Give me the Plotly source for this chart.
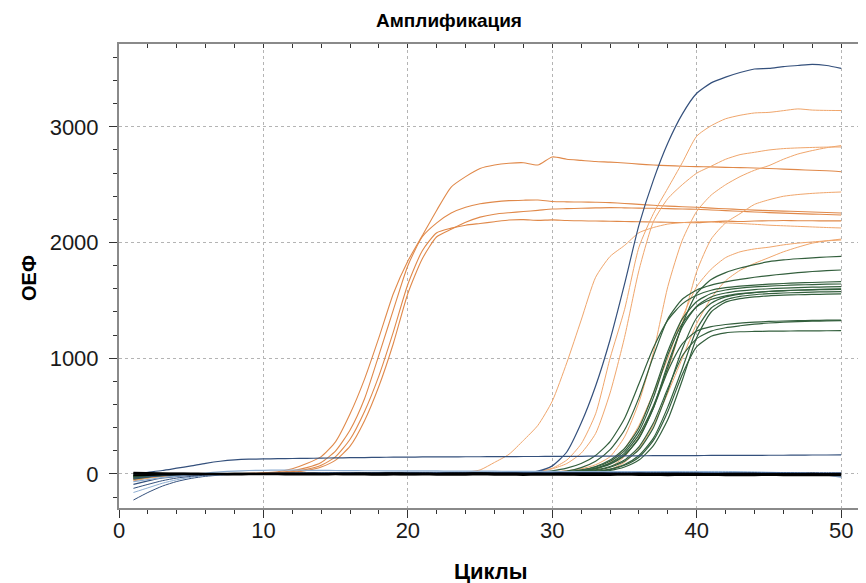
import plotly.graph_objects as go

cycles = list(range(1, 51))

# ---- early orange curves ----
O1 = [-40,-25,-15,-8,-5,-2,0,2,5,10,
      20,45,90,150,280,520,820,1180,1560,1840,
      2060,2280,2480,2570,2640,2670,2685,2690,2670,2740,
      2720,2710,2700,2695,2688,2678,2670,2665,2660,2656,
      2654,2650,2648,2645,2640,2635,2630,2625,2620,2612]
O2 = [-60,-35,-20,-10,-5,-2,0,2,3,6,
      12,28,55,100,200,380,650,1030,1420,1800,
      2050,2170,2255,2305,2335,2352,2362,2366,2368,2355,
      2352,2350,2348,2345,2338,2330,2322,2315,2310,2305,
      2298,2292,2286,2280,2276,2272,2268,2264,2260,2256]
O3 = [-50,-30,-18,-10,-6,-3,-1,0,2,4,
      8,15,30,60,120,240,460,760,1130,1560,
      1860,2050,2115,2175,2220,2245,2258,2268,2278,2290,
      2293,2296,2300,2302,2300,2298,2296,2293,2290,2288,
      2282,2276,2270,2264,2259,2254,2250,2246,2242,2238]
O4 = [-45,-28,-15,-8,-4,-2,0,1,3,5,
      10,20,40,75,150,300,540,850,1230,1640,
      1930,2085,2125,2150,2165,2180,2195,2198,2192,2196,
      2190,2188,2186,2184,2182,2180,2178,2175,2173,2172,
      2180,2185,2182,2186,2188,2190,2189,2188,2187,2187]

# ---- late orange curves ----
L1 = [-55,-35,-20,-12,-6,-3,-1,0,1,0,
      1,2,1,0,1,2,1,2,3,2,
      3,4,5,15,35,100,170,290,420,630,
      960,1330,1700,1880,1975,2085,2130,2160,2172,2180,
      2178,2170,2165,2158,2150,2145,2140,2135,2130,2126]
L2 = [-40,-25,-15,-8,-4,-2,0,1,0,1,
      0,1,2,1,0,1,2,1,0,1,
      2,3,2,3,4,5,8,12,20,50,
      120,260,520,1000,1420,1960,2250,2470,2690,2920,
      3010,3070,3100,3120,3125,3140,3155,3145,3142,3141]
L3 = [-35,-22,-12,-6,-3,-1,0,1,0,1,
      0,1,0,1,2,1,0,1,2,1,
      2,3,3,4,5,6,8,12,22,45,
      90,180,350,700,1180,1760,2180,2380,2500,2600,
      2660,2720,2760,2780,2800,2812,2818,2822,2825,2826]
L4 = [-30,-18,-10,-5,-2,0,1,0,1,0,
      1,2,1,0,1,2,1,2,1,2,
      3,2,3,4,4,5,6,8,12,18,
      28,45,80,150,320,620,1050,1620,2020,2270,
      2410,2500,2570,2625,2665,2720,2765,2795,2820,2838]
L5 = [-20,-12,-6,-3,-1,0,1,0,1,0,
      1,2,1,0,1,2,1,0,1,2,
      3,2,3,4,4,5,6,8,10,13,
      17,22,35,60,150,320,580,900,1300,1750,
      2030,2170,2250,2330,2370,2400,2415,2425,2432,2437]
L6 = [-40,-25,-14,-7,-3,-1,0,1,0,1,
      0,1,2,1,0,1,2,1,0,1,
      2,3,2,3,4,5,6,8,10,14,
      18,25,40,100,220,420,700,1000,1350,1620,
      1770,1870,1920,1945,1960,1980,1995,2005,2015,2022]
L7 = [-30,-18,-10,-5,-2,0,1,0,1,0,
      1,0,1,2,1,0,1,2,1,2,
      3,2,3,4,4,5,6,7,9,11,
      14,18,25,40,100,220,420,700,1000,1300,
      1520,1670,1760,1820,1870,1920,1960,1995,2015,2030]

# ---- blue amplification curve ----
B1 = [-90,-60,-35,-20,-10,-5,-2,0,1,2,
      3,3,4,4,5,5,5,6,6,6,
      6,7,7,8,8,9,10,12,25,70,
      190,440,760,1160,1640,2150,2540,2860,3110,3290,
      3380,3430,3470,3500,3505,3520,3530,3540,3530,3506]

# ---- green curves ----
G1 = [-20,-12,-6,-3,-1,0,1,0,1,0,
      1,0,1,2,1,0,1,0,1,2,
      1,2,1,2,3,2,3,4,5,7,
      12,25,50,95,180,340,590,920,1290,1560,
      1680,1740,1780,1810,1835,1850,1860,1868,1875,1880]
G2 = [-25,-15,-8,-4,-2,0,0,1,0,1,
      0,1,0,1,2,1,0,1,2,1,
      2,3,2,3,4,5,6,7,9,14,
      25,55,110,210,380,660,1020,1340,1510,1590,
      1632,1660,1682,1700,1715,1728,1740,1750,1757,1763]
G3 = [-15,-10,-5,-2,0,1,0,1,0,1,
      2,1,0,1,2,1,2,1,2,3,
      2,3,4,3,4,5,7,10,16,28,
      50,90,160,280,480,780,1090,1330,1470,1545,
      1588,1610,1623,1633,1640,1646,1651,1655,1659,1662]
G4 = [-30,-18,-10,-5,-2,0,1,0,1,0,
      1,0,1,2,1,0,1,2,1,2,
      3,2,3,4,3,4,5,6,8,11,
      18,35,65,120,220,400,700,1060,1340,1490,
      1560,1590,1606,1617,1624,1629,1634,1637,1640,1642]
G5 = [-10,-6,-3,-1,0,1,0,1,0,1,
      0,1,2,1,0,1,0,1,2,1,
      2,1,2,3,2,3,4,5,7,10,
      15,25,48,90,165,310,570,950,1270,1450,
      1530,1564,1582,1594,1601,1606,1610,1614,1617,1619]
G6 = [-35,-22,-12,-6,-3,-1,0,1,0,1,
      0,1,0,1,2,1,0,1,0,1,
      2,1,2,1,2,3,4,4,5,7,
      10,16,30,58,110,210,400,720,1080,1350,
      1475,1530,1555,1568,1577,1583,1588,1591,1594,1596]
G7 = [-20,-12,-6,-3,-1,0,1,0,1,0,
      1,0,1,0,1,2,1,0,1,2,
      1,2,1,2,3,2,3,4,5,6,
      8,12,22,42,82,160,310,580,910,1250,
      1435,1505,1535,1549,1558,1564,1568,1572,1574,1576]
G8 = [-45,-28,-15,-8,-4,-2,0,1,0,1,
      0,1,0,1,0,1,2,1,0,1,
      2,1,2,1,2,3,3,4,5,6,
      7,10,16,30,60,120,245,470,810,1180,
      1400,1485,1515,1530,1540,1545,1549,1552,1554,1556]
G9 = [-15,-8,-4,-2,0,1,0,1,0,1,
      0,1,2,1,0,1,2,1,0,1,
      2,1,2,3,2,3,4,5,7,9,
      12,18,35,65,120,235,440,740,1020,1170,
      1235,1264,1281,1295,1305,1312,1317,1320,1323,1325]
G10 = [-25,-15,-8,-4,-2,0,1,0,1,0,
       1,2,1,0,1,0,1,2,1,0,
       1,2,1,2,3,2,3,4,5,6,
       9,13,20,38,75,145,290,540,860,1100,
       1190,1220,1229,1232,1234,1235,1236,1237,1238,1239]
G11 = [-12,-7,-4,-2,0,1,0,1,0,1,
       0,1,0,1,2,1,0,1,2,1,
       2,3,2,3,4,4,5,7,10,14,
       20,32,60,110,200,370,660,1030,1300,1445,
       1508,1540,1558,1570,1578,1585,1590,1594,1597,1600]
G12 = [-18,-10,-5,-2,0,1,0,1,0,1,
       2,1,0,1,0,1,2,1,2,1,
       2,1,2,3,3,4,5,7,9,12,
       16,24,45,85,160,310,570,890,1125,1235,
       1274,1292,1304,1312,1318,1322,1325,1327,1329,1330]

# ---- baseline curves ----
N1 = [0,15,30,50,70,92,110,122,128,130,
      132,134,135,137,139,141,142,144,145,146,
      147,148,148,149,149,150,150,151,151,152,
      152,153,154,155,156,157,158,158,159,159,
      160,160,161,161,162,162,163,164,164,165]
D1 = [-225,-160,-105,-65,-38,-20,-10,-4,-1,1,
      2,3,4,4,5,5,6,6,6,6,
      5,5,5,4,4,4,3,3,3,2,
      2,2,1,1,0,0,-1,-1,-2,-2,
      -3,-3,-4,-4,-5,-5,-6,-6,-7,-8]
D2 = [-160,-120,-80,-50,-28,-14,-6,-1,2,4,
      6,8,9,10,11,12,13,14,15,16,
      16,17,17,18,18,18,19,19,19,20,
      20,20,20,21,21,21,21,21,22,22,
      22,22,20,18,15,12,8,4,-10,-30]
D3 = [-124,-90,-58,-35,-20,-10,-4,0,3,5,
      7,8,9,10,10,11,11,12,12,12,
      12,12,13,13,13,13,13,13,14,14,
      14,14,14,14,14,14,13,13,13,12,
      12,11,10,9,8,6,4,2,0,-3]
D4 = [-66,-48,-32,-18,-5,8,18,25,30,32,
      33,33,32,31,30,29,28,28,27,27,
      26,26,25,25,24,24,23,23,22,22,
      21,21,20,20,19,19,18,18,17,16,
      15,14,13,12,10,8,5,0,-10,-20]
D5 = [-38,-25,-15,-8,-3,0,2,3,4,4,
      5,5,5,6,6,6,6,7,7,7,
      7,7,8,8,8,8,8,9,9,9,
      9,9,9,10,10,10,10,10,10,10,
      10,10,10,11,11,11,11,11,11,11]
K1 = [10,8,5,5,4,3,3,2,2,1,
      0,0,-1,0,1,2,1,0,-1,-2,
      -1,0,1,2,1,0,-1,0,1,0,
      -2,-3,-2,-1,0,1,0,-1,-2,-3,
      -2,-3,-4,-3,-5,-6,-5,-4,-6,-5]
K2 = [-10,-8,-5,-3,-2,-1,0,1,2,3,
      4,5,4,3,2,3,4,5,6,5,
      4,3,4,5,6,5,4,3,2,3,
      4,5,4,3,2,1,2,3,2,1,
      0,1,2,1,0,-1,0,1,0,-1]
K3 = [5,6,4,2,0,-2,-3,-4,-3,-2,
      -3,-4,-5,-4,-3,-4,-5,-6,-5,-4,
      -5,-6,-7,-6,-5,-6,-7,-8,-7,-6,
      -7,-8,-9,-8,-7,-8,-9,-10,-9,-8,
      -9,-10,-11,-10,-9,-10,-11,-12,-11,-10]

x_ticks = [0, 10, 20, 30, 40, 50]
y_ticks = [0, 1000, 2000, 3000]

FONT = "Liberation Sans, Arial, sans-serif"
ORANGE_EARLY = "#E0894A"
ORANGE_LATE = "#F0A66C"
GREEN = "#335F3D"
NAVY = "#34507C"
LIGHTBLUE = "#8EAED2"

fig = go.Figure()

def add(vals, color, width=1.0):
    fig.add_trace(go.Scatter(x=cycles, y=vals, mode="lines",
                             line=dict(color=color, width=width, shape="spline", smoothing=0.6),
                             hoverinfo="skip"))

for s in [O1, O2, O3, O4]:
    add(s, ORANGE_EARLY, 1.1)
for s in [L1, L2, L3, L4, L5, L6, L7]:
    add(s, ORANGE_LATE, 1.0)
for s in [G1, G2, G3, G4, G5, G6, G7, G8, G9, G10, G11, G12]:
    add(s, GREEN, 1.2)
add(B1, NAVY, 1.2)
add(N1, NAVY, 1.2)
add(D1, NAVY, 1.0)
add(D2, LIGHTBLUE, 1.0)
add(D3, NAVY, 1.0)
add(D4, LIGHTBLUE, 1.2)
add(D5, NAVY, 1.0)
for s in [K1, K2, K3]:
    add(s, "#000000", 2.0)

# empty trace so the top tick axis is drawn
fig.add_trace(go.Scatter(x=[], y=[], xaxis="x2", hoverinfo="skip"))

XMAX = 51.72
axis_common = dict(
    showline=True, linecolor="#8a8a8a", linewidth=2,
    ticks="outside", ticklen=8, tickwidth=1, tickcolor="#333333",
    showgrid=True, gridcolor="#b4b4b4", gridwidth=1, griddash="dot",
    zeroline=False,
    tickfont=dict(family=FONT, size=22, color="#1a1a1a"),
)

# page has an 8px body margin: figure is 858x575 placed at (8,8)
fig.update_layout(
    width=858, height=575,
    margin=dict(l=111, r=0, t=36, b=75),
    plot_bgcolor="white", paper_bgcolor="white",
    showlegend=False,
    title=dict(text="<b>Амплификация</b>", x=(449-8)/858, xanchor="center",
               xref="container", y=1-(20-8)/575, yanchor="middle", yref="container",
               font=dict(family=FONT, size=19, color="#000000")),
    xaxis=dict(range=[0, XMAX], tickvals=x_ticks, mirror=True,
               minor=dict(dtick=2, tick0=0, ticks="outside", ticklen=4,
                          tickcolor="#333333", showgrid=False),
               ticklabelstandoff=-6,
               **axis_common),
    xaxis2=dict(range=[0, XMAX], overlaying="x", side="top",
                tickvals=list(range(0, 51, 2)), ticks="inside", ticklen=4,
                tickcolor="#333333", showticklabels=False, showgrid=False,
                showline=False, zeroline=False),
    yaxis=dict(range=[-294, 3716], tickvals=y_ticks,
               minor=dict(dtick=200, tick0=0, ticks="outside", ticklen=4,
                          tickcolor="#333333", showgrid=False),
               ticklabelstandoff=6,
               **axis_common),
    annotations=[
        dict(text="<b>ОЕФ</b>", xref="paper", yref="paper",
             x=(29-119)/747, y=(508-278)/464, textangle=-90,
             showarrow=False, xanchor="center", yanchor="middle",
             font=dict(family=FONT, size=20, color="#000000")),
        dict(text="<b>Циклы</b>", xref="paper", yref="paper",
             x=(491-119)/747, y=(508-571)/464,
             showarrow=False, xanchor="center", yanchor="middle",
             font=dict(family=FONT, size=22, color="#000000")),
    ],
)

fig.write_html("out.html")
